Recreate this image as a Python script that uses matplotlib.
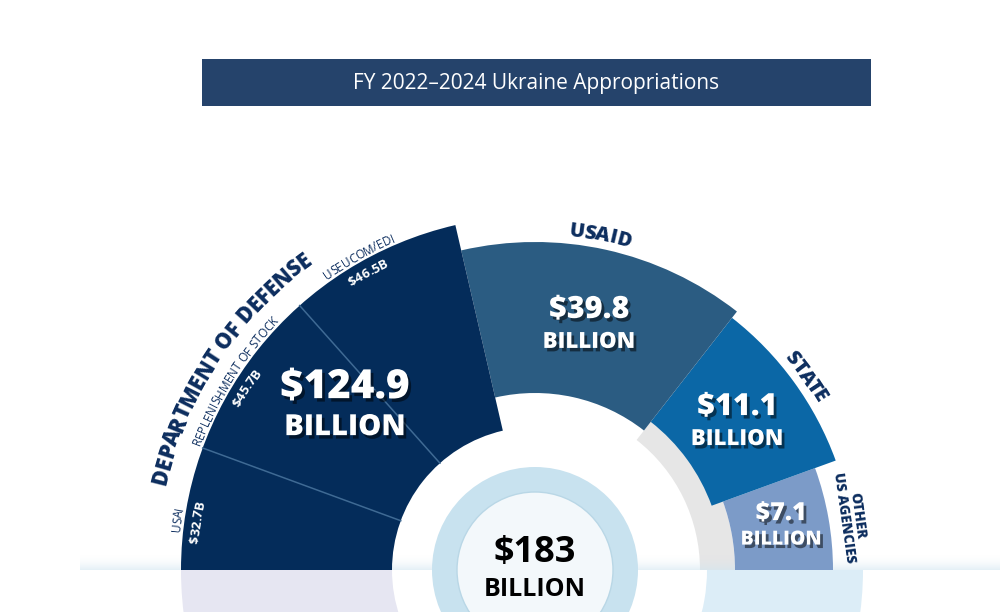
import numpy as np
import matplotlib
matplotlib.use('Agg')
import matplotlib.pyplot as plt
import matplotlib.patheffects as pe
from matplotlib.patches import Wedge, Rectangle, Circle
from matplotlib.font_manager import FontProperties

# ── data ──────────────────────────────────────────────
agencies = ['DEPARTMENT OF DEFENSE', 'USAID', 'STATE', 'OTHER\nUS AGENCIES']
amounts = [124.9, 39.8, 11.1, 7.1]
# angular share of the half ring as drawn in the infographic (degrees)
arc_deg = [77, 51, 32, 20]
dod_parts = ['USAI', 'REPLENISHMENT OF STOCK', 'USEUCOM/EDI']
dod_amounts = [32.7, 45.7, 46.5]
total = 183
title = 'FY 2022\u20132024 Ukraine Appropriations'

# ── layout / style ────────────────────────────────────
colors = ['#042c5a', '#2b5c82', '#0b67a6', '#7c9bc8']
pale = ['#e6e6f2', '#e3eff7', '#dcedf7', '#dcedf7']
r_out = [354, 328, 320, 298]
r_in = [143, 177, 188, 200]
navy = '#0c2d5e'
DPI = 100
CX, CY = 535, 570          # ring centre in pixel coords

fig = plt.figure(figsize=(10, 6.12), dpi=DPI)
ax = fig.add_axes([0, 0, 1, 1])
ax.set_xlim(-CX, 1000 - CX)
ax.set_ylim(CY - 612, CY)
ax.axis('off')
renderer = fig.canvas.get_renderer()


def px(y):
    return CY - y


def arc_text(s, theta_mid, r_mid, size, weight='bold', color=navy):
    fp = FontProperties(family='Open Sans', size=size, weight=weight)
    em = size * DPI / 72
    r_base = r_mid - 0.36 * em
    wI = renderer.get_text_width_height_descent('I', fp, ismath=False)[0]

    def wid(t):
        return renderer.get_text_width_height_descent(t + 'I', fp, ismath=False)[0] - wI
    W = wid(s)
    for i, ch in enumerate(s):
        if ch == ' ':
            continue
        x0 = wid(s[:i])
        cw = wid(s[:i + 1]) - x0
        th = np.radians(theta_mid) - (x0 + cw / 2 - W / 2) / r_mid
        ax.text(r_base * np.cos(th), r_base * np.sin(th), ch, fontproperties=fp,
                color=color, rotation=np.degrees(th) - 90, rotation_mode='anchor',
                ha='center', va='baseline')


shadow = [pe.SimplePatchShadow(offset=(2, -2.5), shadow_rgbFace='black', alpha=0.5), pe.Normal()]

# angles of the main slices (counter-clockwise from 180 down to 0)
ends = 180 - np.cumsum([0] + arc_deg)
starts, stops = ends[1:], ends[:-1]

# reflection below the base line
for i in range(len(amounts)):
    ax.add_patch(Wedge((0, 0), r_out[i] + (30 if i > 0 else 0), -stops[i], -starts[i],
                       width=r_out[i] - r_in[i] + (58 if i > 0 else 0),
                       facecolor=pale[i], edgecolor='none', zorder=1))

# grey shadow band behind STATE / OTHER
ax.add_patch(Wedge((0, 0), 200, 0, starts[1], width=35, facecolor='#e6e6e6',
                   edgecolor='none', zorder=2))

# main slices
for i in [3, 2, 1, 0]:
    ax.add_patch(Wedge((0, 0), r_out[i], starts[i], stops[i], width=r_out[i] - r_in[i],
                       facecolor=colors[i], edgecolor='none', zorder=3))

# DoD sub-dividers
cum = np.cumsum(dod_amounts) / sum(dod_amounts) * arc_deg[0]
for a in 180 - cum[:-1]:
    t = np.radians(a)
    ax.plot([r_in[0] * np.cos(t), r_out[0] * np.cos(t)],
            [r_in[0] * np.sin(t), r_out[0] * np.sin(t)],
            color='#3f6a94', lw=1.1, zorder=4)

# fade band along the base line
grad = np.linspace(0, 1, 256).reshape(-1, 1)
band = np.zeros((256, 1, 4))
band[..., 0], band[..., 1], band[..., 2] = 0.82, 0.90, 0.94
band[..., 3] = grad ** 2 * 0.6
ax.imshow(band, extent=(-CX + 80, 1000 - CX, 0, 16), aspect='auto', zorder=2.5,
          origin='upper', interpolation='bilinear')

# centre disc
ax.add_patch(Circle((0, 0), 103, facecolor='#c8e2ef', edgecolor='none', zorder=5))
ax.add_patch(Circle((0, 0), 78, facecolor='#f3f8fb', edgecolor='#b9d7e6', lw=1, zorder=6))
ax.text(0, px(553), f'${total}', ha='center', va='center', fontsize=26,
        fontweight='bold', family='Open Sans', color='black', zorder=7)
ax.text(0, px(589), 'BILLION', ha='center', va='center', fontsize=18,
        fontweight='bold', family='Open Sans', color='black', zorder=7)

# value labels inside slices
val_size = [(29, 21), (22, 16), (22, 16), (18, 14)]
gap = [20, 16, 16, 13]
for i, v in enumerate(amounts):
    mid = np.radians((starts[i] + stops[i]) / 2 - (2 if i == 0 else 0))
    x, y = 250 * np.cos(mid), 250 * np.sin(mid)
    ax.text(x, y + gap[i], f'${v}', ha='center', va='center', fontsize=val_size[i][0],
            fontweight=800, family='Open Sans', color='white', zorder=8,
            path_effects=shadow)
    ax.text(x, y - gap[i], 'BILLION', ha='center', va='center', fontsize=val_size[i][1],
            fontweight=800, family='Open Sans', color='white', zorder=8,
            path_effects=shadow)

# DoD sub-labels
mids = 180 - (cum - np.array(dod_amounts) / sum(dod_amounts) * arc_deg[0] / 2)
for name, v, m in zip(dod_parts, dod_amounts, mids):
    arc_text(name, m + 2, 361, 8.5, weight='normal', color=navy)
    arc_text(f'${v}B', m + 2, 342, 9.5, weight='bold', color='white')

# category labels on the outside
arc_text(agencies[0], (starts[0] + stops[0]) / 2 + 5, 387, 15.5, weight=800)
arc_text(agencies[1], (starts[1] + stops[1]) / 2 + 1.5, 343, 14.5, weight=800)
arc_text(agencies[2], (starts[2] + stops[2]) / 2 - 0.5, 335, 14.5, weight=800)
ax.text(851 - CX, px(517), agencies[3], rotation=-82, rotation_mode='anchor',
        ha='center', va='center', multialignment='center', fontsize=10,
        fontweight=800, family='Open Sans', color=navy, linespacing=1.0)

# title banner
ax.add_patch(Rectangle((202 - CX, px(106)), 669, 47, facecolor='#25436b',
                       edgecolor='none', zorder=9))
ax.text(536 - CX, px(83), title, ha='center', va='center', fontsize=15,
        family='Open Sans', color='white', zorder=10)

plt.savefig('out.png', dpi=DPI)
